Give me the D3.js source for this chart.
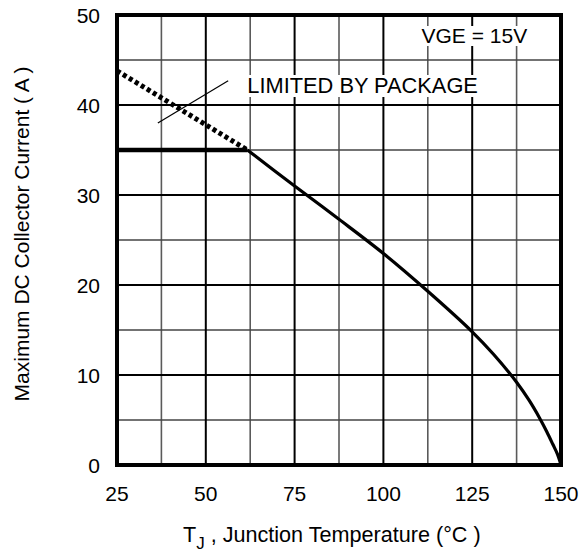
<!DOCTYPE html>
<html>
<head>
<meta charset="utf-8">
<script src="https://cdn.jsdelivr.net/npm/d3@7"></script>
<style>
  body { margin: 0; background: #fff; }
  text { font-family: "Liberation Sans", Arial, sans-serif; fill: #000; }
</style>
</head>
<body>
<div id="chart"></div>
<script>
// values
var xTicks = [25, 50, 75, 100, 125, 150],
  yTicks = [0, 10, 20, 30, 40, 50],
  xGrid = [37.5, 62.5, 87.5, 112.5, 137.5],
  yGrid = [5, 15, 25, 35, 45],
  limitT = [25, 61.7],
  limitI = [35, 35],
  packT = [25, 61.7],
  packI = [43.8, 35],
  deratingT = [61.7, 75, 87.5, 100, 112.5, 125, 131, 137.5, 141, 144, 146, 147.7, 149, 150],
  deratingI = [35, 31.0, 27.3, 23.5, 19.3, 14.8, 12.3, 9.2, 7.2, 5.2, 3.7, 2.3, 1.2, 0],
  pointerT = [36.5, 56.3],
  pointerI = [38, 42.7];

var width = 581, height = 553,
  margin = {top: 15, right: 20, bottom: 88, left: 117},
  fs = 21;

var svg = d3.select("#chart").append("svg")
  .attr("width", width)
  .attr("height", height);

var x = d3.scaleLinear().domain([25, 150]).range([margin.left, width - margin.right]);
var y = d3.scaleLinear().domain([0, 50]).range([height - margin.bottom, margin.top]);

// minor grid
svg.selectAll(".vminor").data(xGrid).enter().append("line")
  .attr("x1", function(d) { return x(d); }).attr("x2", function(d) { return x(d); })
  .attr("y1", y(0)).attr("y2", y(50))
  .attr("stroke", "#5a5a5a").attr("stroke-width", 1.6);
svg.selectAll(".hminor").data(yGrid).enter().append("line")
  .attr("y1", function(d) { return y(d); }).attr("y2", function(d) { return y(d); })
  .attr("x1", x(25)).attr("x2", x(150))
  .attr("stroke", "#444").attr("stroke-width", 1.4);

// major grid
svg.selectAll(".vmajor").data(xTicks).enter().append("line")
  .attr("x1", function(d) { return x(d); }).attr("x2", function(d) { return x(d); })
  .attr("y1", y(0)).attr("y2", y(50))
  .attr("stroke", "#000").attr("stroke-width", 2);
svg.selectAll(".hmajor").data(yTicks).enter().append("line")
  .attr("y1", function(d) { return y(d); }).attr("y2", function(d) { return y(d); })
  .attr("x1", x(25)).attr("x2", x(150))
  .attr("stroke", "#000").attr("stroke-width", 2);

// labels sit on white boxes that cut the grid
function label(txt, xr, yb, anchor, size) {
  var t = svg.append("text")
    .attr("x", xr).attr("y", yb)
    .attr("text-anchor", anchor)
    .attr("font-size", size)
    .text(txt);
  var bb = t.node().getBBox();
  svg.insert("rect", "text")
    .attr("x", bb.x - 3).attr("y", bb.y + 2)
    .attr("width", bb.width + 6).attr("height", bb.height - 3)
    .attr("fill", "#fff");
  t.raise();
}
label("VGE = 15V", x(125.6), 43, "middle", fs);
label("LIMITED BY PACKAGE", x(61.7), 93, "start", 21.8);

// frame
svg.append("rect")
  .attr("x", x(25)).attr("y", y(50))
  .attr("width", x(150) - x(25)).attr("height", y(0) - y(50))
  .attr("fill", "none").attr("stroke", "#000").attr("stroke-width", 4);

var line = d3.line()
  .x(function(d) { return x(d[0]); })
  .y(function(d) { return y(d[1]); });

svg.append("path")
  .attr("d", line(d3.zip(packT, packI)))
  .attr("fill", "none").attr("stroke", "#000")
  .attr("stroke-width", 5).attr("stroke-dasharray", "4,3");

svg.append("path")
  .attr("d", line(d3.zip(limitT, limitI)))
  .attr("fill", "none").attr("stroke", "#000").attr("stroke-width", 4.5);

svg.append("path")
  .attr("d", line.curve(d3.curveCatmullRom)(d3.zip(deratingT, deratingI)))
  .attr("fill", "none").attr("stroke", "#000").attr("stroke-width", 3.2);

svg.append("line")
  .attr("x1", x(pointerT[0])).attr("y1", y(pointerI[0]))
  .attr("x2", x(pointerT[1])).attr("y2", y(pointerI[1]))
  .attr("stroke", "#000").attr("stroke-width", 1.2);

// tick labels
svg.selectAll(".xl").data(xTicks).enter().append("text")
  .attr("x", function(d) { return x(d); })
  .attr("y", 501)
  .attr("text-anchor", "middle")
  .attr("font-size", fs)
  .text(function(d) { return d; });
svg.selectAll(".yl").data(yTicks).enter().append("text")
  .attr("x", 100)
  .attr("y", function(d) { return y(d) + 7.5; })
  .attr("text-anchor", "end")
  .attr("font-size", fs)
  .text(function(d) { return d; });

// axis titles
var xt = svg.append("text")
  .attr("x", 183).attr("y", 542)
  .attr("text-anchor", "start")
  .attr("font-size", 21.6);
xt.append("tspan").text("T");
xt.append("tspan").attr("dy", 7).attr("font-size", 17).text("J");
xt.append("tspan").attr("dy", -7).text(" , Junction Temperature (°C )");

svg.append("text")
  .attr("transform", "translate(29,234) rotate(-90)")
  .attr("text-anchor", "middle")
  .attr("font-size", fs)
  .text("Maximum DC Collector Current ( A )");
</script>
</body>
</html>
